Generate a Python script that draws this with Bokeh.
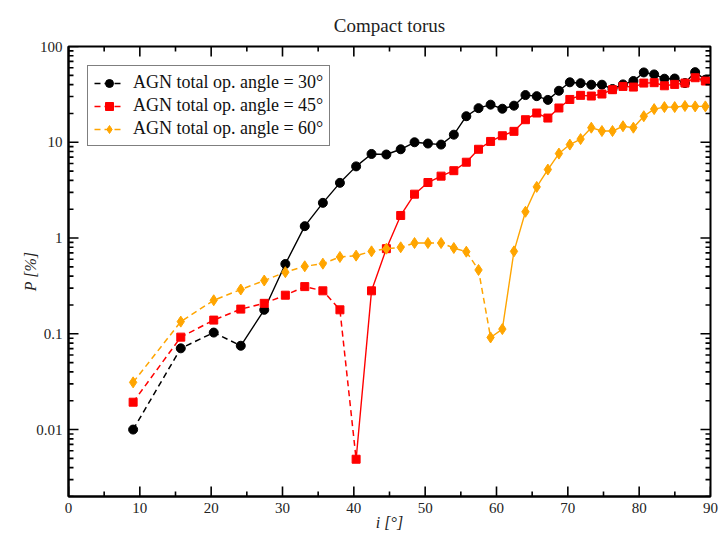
from math import log10

from bokeh.plotting import figure
from bokeh.models import (Range1d, LinearAxis, LogAxis, FixedTicker,
                          CustomJSTickFormatter, Legend, LegendItem, ColumnDataSource)
from bokeh.embed import file_html
from bokeh.resources import INLINE

# inclination of the line of sight [deg]
incl = [9.06, 15.74, 20.36, 24.15, 27.44, 30.40, 33.12, 35.66, 38.05, 40.32,
        42.48, 44.56, 46.57, 48.51, 50.39, 52.23, 54.02, 55.77, 57.48, 59.17,
        60.82, 62.45, 64.06, 65.64, 67.20, 68.75, 70.28, 71.79, 73.29, 74.78,
        76.26, 77.73, 79.19, 80.65, 82.10, 83.54, 84.98, 86.42, 87.85, 89.28]

# polarization degree P [%] for three AGN total opening angles
pol_30 = [0.0100, 0.0705, 0.103, 0.075, 0.178, 0.536, 1.33, 2.33, 3.77, 5.6,
          7.55, 7.45, 8.45, 10.0, 9.7, 9.46, 12.0, 18.7, 22.7, 24.7,
          22.4, 24.1, 31.1, 30.3, 27.7, 34.5, 42.3, 41.4, 39.9, 39.9,
          36.0, 40.2, 43.6, 53.6, 51.1, 46.1, 46.3, 41.5, 54.0, 45.0]
pol_45 = [0.0193, 0.0923, 0.139, 0.181, 0.208, 0.253, 0.311, 0.281, 0.178, 0.0049,
          0.281, 0.774, 1.72, 2.87, 3.80, 4.43, 5.05, 6.19, 8.45, 10.2,
          11.7, 13.0, 17.2, 20.2, 17.9, 22.8, 28.0, 30.9, 30.4, 31.9,
          35.4, 38.3, 37.7, 41.5, 41.9, 38.9, 40.2, 41.5, 47.2, 43.6]
pol_60 = [0.0311, 0.134, 0.224, 0.290, 0.360, 0.440, 0.507, 0.540, 0.634, 0.655,
          0.726, 0.774, 0.800, 0.887, 0.887, 0.887, 0.787, 0.720, 0.464, 0.0916,
          0.112, 0.726, 1.88, 3.42, 5.19, 7.62, 9.46, 10.8, 14.2, 13.1,
          13.1, 14.7, 14.2, 18.7, 22.2, 23.3, 23.3, 23.9, 23.7, 23.7]

# index where each curve switches from dashed (low i) to solid (high i)
switch_30 = 3
switch_45 = 9
switch_60 = 19

labels = ["AGN total op. angle = 30\u00b0",
          "AGN total op. angle = 45\u00b0",
          "AGN total op. angle = 60\u00b0"]
colors = ["#000000", "#ff0000", "#ffa500"]
markers = ["circle", "square", "diamond"]
msizes = [9, 8, 11]

# tick positions
x_major = [0, 10, 20, 30, 40, 50, 60, 70, 80, 90]
x_minor = [5, 15, 25, 35, 45, 55, 65, 75, 85]
y_major = [0.01, 0.1, 1, 10, 100]
y_minor = [m * d for d in [0.001, 0.01, 0.1, 1, 10] for m in range(2, 10)]

X0, X1 = 0, 90
Y0, Y1 = 0.002, 100

W, H = 722, 537
BL, BR, BT, BB = 68, 12, 46, 41

SERIF = "Liberation Serif"
TEXT = "#222222"

p = figure(width=W, height=H, y_axis_type="log",
           x_range=Range1d(X0, X1), y_range=Range1d(Y0, Y1),
           output_backend="svg", toolbar_location=None,
           min_border_left=BL, min_border_right=BR,
           min_border_top=BT, min_border_bottom=BB,
           x_axis_location=None, y_axis_location=None)
p.grid.visible = False
p.background_fill_color = None
p.border_fill_color = None
p.outline_line_color = "black"
p.outline_line_width = 2

p.title.text = "Compact torus"
p.title.align = "center"
p.title.text_font = SERIF
p.title.text_font_size = "19px"
p.title.text_font_style = "normal"
p.title.text_color = TEXT
p.title.standoff = 22

fmt = CustomJSTickFormatter(code="""
    return tick >= 1 ? tick.toFixed(0) : parseFloat(tick.toPrecision(1)).toString();
""")


def style_axis(ax, label, label_standoff):
    ax.axis_line_color = "black"
    ax.axis_line_width = 2
    ax.major_tick_line_color = None
    ax.minor_tick_line_color = None
    ax.major_tick_in = 0
    ax.major_tick_out = 0
    ax.minor_tick_in = 0
    ax.minor_tick_out = 0
    ax.major_label_text_font = SERIF
    ax.major_label_text_color = TEXT
    ax.major_label_text_font_size = "15px"
    ax.major_label_standoff = 6
    ax.axis_label = label
    ax.axis_label_text_font = SERIF
    ax.axis_label_text_font_style = "italic"
    ax.axis_label_text_font_size = "16px"
    ax.axis_label_text_color = TEXT
    ax.axis_label_standoff = label_standoff


xax = LinearAxis(ticker=FixedTicker(ticks=x_major))
style_axis(xax, "i [\u00b0]", -2)
p.add_layout(xax, "below")

yax = LogAxis(ticker=FixedTicker(ticks=y_major), formatter=fmt)
style_axis(yax, "P [%]", -6)
p.add_layout(yax, "left")

legend_items = []
for pol, sw, lab, col, mk, ms in zip([pol_30, pol_45, pol_60],
                                     [switch_30, switch_45, switch_60],
                                     labels, colors, markers, msizes):
    dashed = ColumnDataSource(dict(x=incl[:sw + 1], y=pol[:sw + 1]))
    solid = ColumnDataSource(dict(x=incl[sw:], y=pol[sw:]))
    allpts = ColumnDataSource(dict(x=incl, y=pol))
    r_d = p.line("x", "y", source=dashed, line_color=col, line_width=1.5, line_dash="6 4")
    p.line("x", "y", source=solid, line_color=col, line_width=1.4)
    r_m = p.scatter("x", "y", source=allpts, marker=mk, size=ms,
                    fill_color=col, line_color=col)
    legend_items.append(LegendItem(label=lab, renderers=[r_d, r_m]))

# inward tick marks on all four sides, one short path per tick; lengths are
# converted from pixels to data units using the frame size
px_per_x = (W - BL - BR) / (X1 - X0)
px_per_dec = (H - BT - BB) / (log10(Y1) - log10(Y0))
tick_xs, tick_ys = [], []


def add_x_ticks(vals, length):
    dy = 10 ** (length / px_per_dec)
    for v in vals:
        tick_xs.append([v, v])
        tick_ys.append([Y0, Y0 * dy])
        tick_xs.append([v, v])
        tick_ys.append([Y1, Y1 / dy])


def add_y_ticks(vals, length):
    dx = length / px_per_x
    for v in vals:
        if not (Y0 <= v <= Y1):
            continue
        tick_xs.append([X0, X0 + dx])
        tick_ys.append([v, v])
        tick_xs.append([X1, X1 - dx])
        tick_ys.append([v, v])


add_x_ticks(x_major, 10)
add_x_ticks(x_minor, 5)
add_y_ticks(y_major, 10)
add_y_ticks(y_minor, 5)

tick_src = ColumnDataSource(dict(xs=tick_xs, ys=tick_ys))
p.multi_line("xs", "ys", source=tick_src, line_color="#000000", line_width=1.6)

legend = Legend(items=legend_items, location="top_left", margin=19,
                label_text_font=SERIF, label_text_font_size="18px",
                label_text_color="#111111",
                glyph_width=30, glyph_height=20, label_height=20,
                label_standoff=9, padding=6, spacing=2,
                border_line_color="black", border_line_width=1.5,
                background_fill_color="white", background_fill_alpha=1.0)
p.add_layout(legend)

open("out.html", "w").write(file_html(p, INLINE))
